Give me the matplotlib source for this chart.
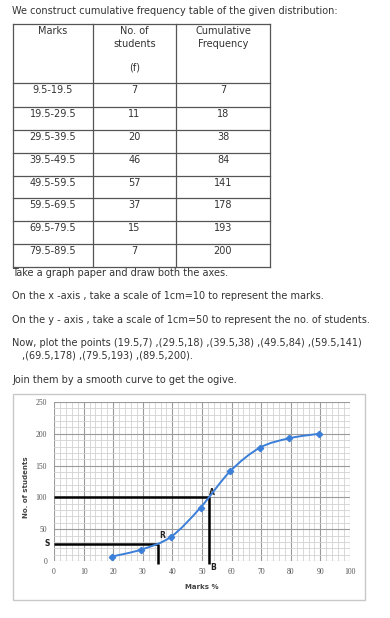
import numpy as np
import matplotlib
matplotlib.use("Agg")
import matplotlib.pyplot as plt
from matplotlib.path import Path
from matplotlib.patches import PathPatch, Rectangle

# ---------------- data ----------------
class_intervals = ["9.5-19.5", "19.5-29.5", "29.5-39.5", "39.5-49.5",
                   "49.5-59.5", "59.5-69.5", "69.5-79.5", "79.5-89.5"]
frequencies = [7, 11, 20, 46, 57, 37, 15, 7]
cumulative = [7, 18, 38, 84, 141, 178, 193, 200]
upper_limits = [19.5, 29.5, 39.5, 49.5, 59.5, 69.5, 79.5, 89.5]

x_ticks = [0, 10, 20, 30, 40, 50, 60, 70, 80, 90, 100]
y_ticks = [0, 50, 100, 150, 200, 250]

# construction lines
a_x, a_y = 52.4, 100      # point A / B
r_x, s_y = 35.2, 27       # point R / S

W, H = 390, 618
fig = plt.figure(figsize=(W / 100, H / 100), dpi=100)
fig.patch.set_facecolor("white")

page = fig.add_axes([0, 0, 1, 1])
page.set_xlim(0, W)
page.set_ylim(H, 0)
page.axis("off")

txt_col = "#333333"
fs = 7.0
font = "DejaVu Sans"

page.text(12, 11, "We construct cumulative frequency table of the given distribution:",
          fontsize=fs, color=txt_col, va="center", ha="left", family=font)

# table
tl, tr = 13, 270
cols = [13, 93, 176, 270]
rows = [24, 83, 107, 130, 153, 176, 198, 221, 244, 267]
line_col = "#555555"
for y in rows:
    page.plot([tl, tr], [y, y], color=line_col, lw=0.9)
for x in cols:
    page.plot([x, x], [rows[0], rows[-1]], color=line_col, lw=0.9)
ccent = [(cols[i] + cols[i + 1]) / 2 for i in range(3)]
page.text(ccent[0], 31, "Marks", fontsize=fs, color=txt_col, ha="center", va="center", family=font)
page.text(ccent[1], 31, "No. of", fontsize=fs, color=txt_col, ha="center", va="center", family=font)
page.text(ccent[1], 44, "students", fontsize=fs, color=txt_col, ha="center", va="center", family=font)
page.text(ccent[1], 67, "(f)", fontsize=fs, color=txt_col, ha="center", va="center", family=font)
page.text(ccent[2], 31, "Cumulative", fontsize=fs, color=txt_col, ha="center", va="center", family=font)
page.text(ccent[2], 44, "Frequency", fontsize=fs, color=txt_col, ha="center", va="center", family=font)
for i, (ci, f, c) in enumerate(zip(class_intervals, frequencies, cumulative)):
    yy = rows[i + 1] + 7
    page.text(ccent[0], yy, ci, fontsize=fs, color=txt_col, ha="center", va="center", family=font)
    page.text(ccent[1], yy, str(f), fontsize=fs, color=txt_col, ha="center", va="center", family=font)
    page.text(ccent[2], yy, str(c), fontsize=fs, color=txt_col, ha="center", va="center", family=font)

pts = ",".join(f"({u},{c})" for u, c in zip(upper_limits, cumulative))
para = [
    (12, 273, "Take a graph paper and draw both the axes."),
    (12, 296, "On the x -axis , take a scale of 1cm=10 to represent the marks."),
    (12, 320, "On the y - axis , take a scale of 1cm=50 to represent the no. of students."),
    (12, 343, "Now, plot the points (19.5,7) ,(29.5,18) ,(39.5,38) ,(49.5,84) ,(59.5,141)"),
    (22, 356, ",(69.5,178) ,(79.5,193) ,(89.5,200)."),
    (12, 380, "Join them by a smooth curve to get the ogive."),
]
for x, y, s in para:
    page.text(x, y, s, fontsize=fs, color=txt_col, ha="left", va="center", family=font)

# chart frame
page.add_patch(Rectangle((13, 394), 352, 206, fill=False, edgecolor="#c8c8c8", lw=1.0))

# ---------------- chart ----------------
px0, px1, py0, py1 = 54, 350, 561, 402
ax = fig.add_axes([px0 / W, 1 - py0 / H, (px1 - px0) / W, (py0 - py1) / H])
ax.set_xlim(0, 100)
ax.set_ylim(0, 250)
ax.set_facecolor("none")
for sp in ax.spines.values():
    sp.set_visible(False)

for xv in np.arange(0, 101, 2):
    major = (xv % 10 == 0)
    ax.axvline(xv, color="#9a9a9a" if major else "#d2d2d2", lw=0.8 if major else 0.6, zorder=1)
for yv in np.arange(0, 251, 10):
    major = (yv % 50 == 0)
    ax.axhline(yv, color="#9a9a9a" if major else "#d2d2d2", lw=0.8 if major else 0.6, zorder=1)

ax.set_xticks(x_ticks)
ax.set_yticks(y_ticks)
ax.tick_params(length=0, labelsize=5.5, labelcolor="#555555", pad=5)
for lab in ax.get_xticklabels() + ax.get_yticklabels():
    lab.set_family("Liberation Serif")

ax.set_xlabel("Marks %", fontsize=5, fontweight="bold", color="#444444", labelpad=5, x=0.5)
ax.xaxis.set_label_coords((202 - px0) / (px1 - px0), -(584 - py0) / (py0 - py1))
ax.set_ylabel("No. of students", fontsize=5, fontweight="bold", color="#444444")
ax.yaxis.set_label_coords(-(px0 - 29) / (px1 - px0), (py0 - 487) / (py0 - py1))

# construction lines
ax.plot([0, a_x], [a_y, a_y], color="black", lw=1.8, zorder=3, solid_capstyle="butt")
ax.plot([a_x, a_x], [-5, a_y], color="black", lw=1.8, zorder=3, clip_on=False, solid_capstyle="butt")
ax.plot([0, r_x], [s_y, s_y], color="black", lw=1.8, zorder=3, solid_capstyle="butt")
ax.plot([r_x, r_x], [-5, s_y], color="black", lw=1.8, zorder=3, clip_on=False, solid_capstyle="butt")

lab_kw = dict(fontsize=5.5, fontweight="bold", color="#222222", ha="center", va="center")
ax.text(a_x + 1, a_y + 8, "A", **lab_kw)
ax.text(a_x + 1.3, -11, "B", clip_on=False, **lab_kw)
ax.text(r_x + 1.3, 40, "R", **lab_kw)
ax.text(-2.4, s_y, "S", clip_on=False, **lab_kw)

# smooth ogive via Catmull-Rom -> cubic Bezier path
xs = np.array(upper_limits, float)
ys = np.array(cumulative, float)
P = np.column_stack([xs, ys])
verts = [tuple(P[0])]
codes = [Path.MOVETO]
n = len(P)
for i in range(n - 1):
    p0 = P[i - 1] if i > 0 else P[i]
    p1, p2 = P[i], P[i + 1]
    p3 = P[i + 2] if i + 2 < n else P[i + 1]
    c1 = p1 + (p2 - p0) / 6
    c2 = p2 - (p3 - p1) / 6
    verts += [tuple(c1), tuple(c2), tuple(p2)]
    codes += [Path.CURVE4] * 3
curve_col = "#3b7fd9"
ax.add_patch(PathPatch(Path(verts, codes), fill=False, edgecolor=curve_col, lw=1.4, zorder=4))
ax.plot(xs, ys, linestyle="none", marker="D", markersize=3.2, color=curve_col, zorder=5)

fig.savefig("out.png", dpi=100, facecolor="white")
